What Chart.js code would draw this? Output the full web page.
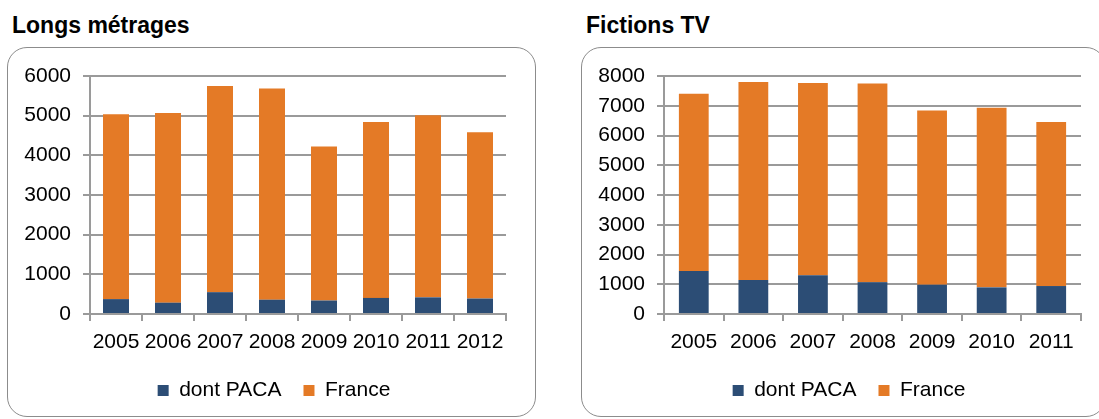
<!DOCTYPE html>
<html lang="fr">
<head>
  <meta charset="UTF-8">
  <title>Longs métrages / Fictions TV</title>
  <script src="https://cdn.jsdelivr.net/npm/chart.js"></script>
  <style>
    body {
      margin: 0;
      background: #fff;
      font-family: "Liberation Sans", Arial, sans-serif;
    }
    .page {
      position: relative;
      width: 1099px;
      height: 419px;
      overflow: hidden;
    }
    .title {
      position: absolute;
      top: 14px;
      font-weight: bold;
      font-size: 23px;
      line-height: 23px;
      color: #000;
    }
    .frame {
      position: absolute;
      top: 47px;
      height: 370px;
      box-sizing: border-box;
      border: 1.5px solid #8c8c8c;
      border-radius: 20px;
    }
    canvas {
      position: absolute;
      top: 50px;
    }
  </style>
</head>
<body>
  <div class="page">
    <div class="title" style="left:12px">Longs métrages</div>
    <div class="title" style="left:586px">Fictions TV</div>
    <div class="frame" style="left:7px; width:529px"></div>
    <div class="frame" style="left:581px; width:525px"></div>
    <canvas id="films" width="506" height="361" style="left:21px"></canvas>
    <canvas id="tv" width="508" height="361" style="left:595px"></canvas>
  </div>

  <script>
    // Longs métrages
    const yearsFilms = ['2005', '2006', '2007', '2008', '2009', '2010', '2011', '2012'];
    const pacaFilms = [375, 285, 550, 360, 340, 405, 420, 390];
    const franceFilms = [4660, 4780, 5200, 5325, 3885, 4435, 4590, 4195];

    // Fictions TV
    const yearsTV = ['2005', '2006', '2007', '2008', '2009', '2010', '2011'];
    const pacaTV = [1445, 1145, 1300, 1070, 985, 895, 940];
    const franceTV = [5955, 6655, 6465, 6680, 5855, 6040, 5510];

    const seriesNames = ['dont PACA', 'France'];
    const gridColor = '#9a9a9a';
    const font = { family: '"Liberation Sans", Arial, sans-serif', size: 21 };

    function renderChart(id, labels, paca, france, yMax, rightGap) {
      const ctx = document.getElementById(id).getContext('2d');
      return new Chart(ctx, {
        type: 'bar',
        data: {
          labels: labels,
          datasets: [
            { label: seriesNames[0], data: paca, backgroundColor: '#2c4d75' },
            { label: seriesNames[1], data: france, backgroundColor: '#e47a26' }
          ]
        },
        options: {
          responsive: false,
          animation: false,
          categoryPercentage: 1,
          barPercentage: 0.5,
          layout: { padding: { top: 26, left: 0, right: 0, bottom: 0 } },
          plugins: {
            tooltip: { enabled: false },
            legend: {
              position: 'bottom',
              labels: {
                color: '#000',
                font: font,
                boxWidth: 11,
                boxHeight: 11,
                padding: 22
              }
            }
          },
          scales: {
            x: {
              stacked: true,
              offset: true,
              grid: {
                offset: true,
                drawOnChartArea: false,
                drawTicks: true,
                tickLength: 7,
                color: gridColor,
                lineWidth: 2
              },
              border: { color: gridColor, width: 2 },
              ticks: { color: '#000', font: font, padding: 9, maxRotation: 0 },
              afterFit: (scale) => { scale.height = 44; }
            },
            y: {
              stacked: true,
              min: 0,
              max: yMax,
              grid: {
                color: gridColor,
                lineWidth: 2,
                tickLength: 7
              },
              border: { color: gridColor, width: 2 },
              ticks: {
                color: '#000',
                font: font,
                stepSize: 1000,
                padding: 12,
                callback: (value) => String(value)
              },
              afterFit: (scale) => { scale.width = 69; }
            },
            // empty spacer on the right so the legend sits where it does in the original
            spacer: {
              type: 'linear',
              position: 'right',
              display: true,
              grid: { display: false },
              border: { display: false },
              ticks: { display: false },
              afterFit: (scale) => { scale.width = rightGap; }
            }
          }
        }
      });
    }

    renderChart('films', yearsFilms, pacaFilms, franceFilms, 6000, 21);
    renderChart('tv', yearsTV, pacaTV, franceTV, 8000, 22);
  </script>
</body>
</html>
